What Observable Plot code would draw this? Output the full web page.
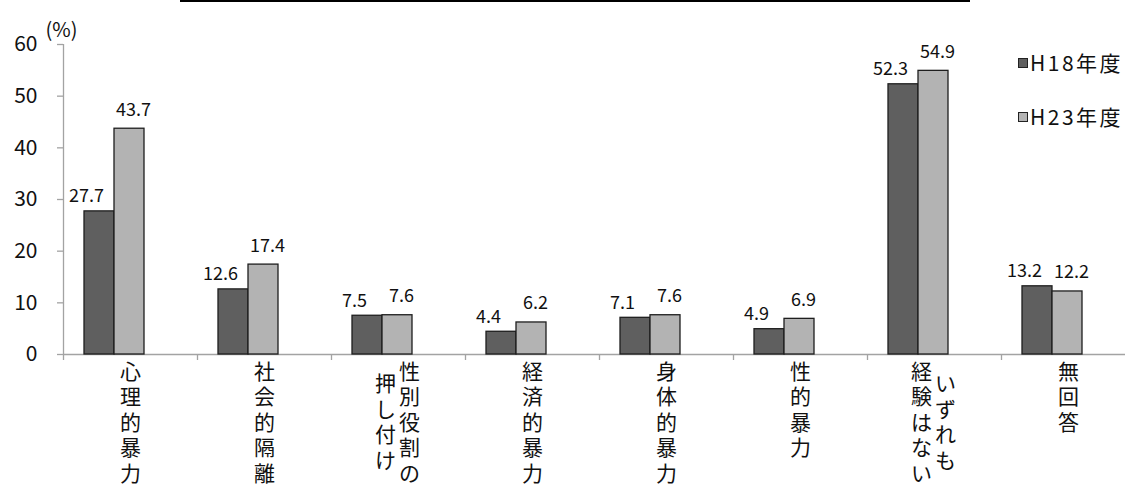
<!DOCTYPE html>
<html><head><meta charset="utf-8">
<script src="https://cdn.jsdelivr.net/npm/d3@7"></script>
<script src="https://cdn.jsdelivr.net/npm/@observablehq/plot@0.6"></script>
<style>
body{margin:0;background:#fff;}
#wrap{position:relative;width:1125px;height:485px;overflow:hidden;font-family:"Noto Sans CJK JP","Noto Sans",sans-serif;color:#111;}
#topline{position:absolute;left:180px;top:0;width:790px;height:2px;background:#000;}
#legend{position:absolute;left:1018px;top:35px;font-size:21px;line-height:54px;letter-spacing:2.5px;white-space:nowrap;}
#legend .sw{display:inline-block;width:8px;height:8px;border:1px solid #222;margin-right:2px;vertical-align:middle;position:relative;top:-2px;}
</style></head>
<body>
<div id="wrap">
<div id="chart"></div>
<div id="topline"></div>
<div id="legend"></div>
</div>
<script>
const categories = ["心理的暴力","社会的隔離","性別役割の\n押し付け","経済的暴力","身体的暴力","性的暴力","いずれも\n経験はない","無回答"];
const seriesNames = ["H18年度","H23年度"];
const h18 = [27.7, 12.6, 7.5, 4.4, 7.1, 4.9, 52.3, 13.2];
const h23 = [43.7, 17.4, 7.6, 6.2, 7.6, 6.9, 54.9, 12.2];
const yTicks = [0, 10, 20, 30, 40, 50, 60];
const colors = ["#5f5f5f", "#b3b3b3"];

const W = 1125, H = 485;
const x0 = 63, x1 = 1135;
const bw = (x1 - x0) / categories.length;
const barW = 30;
const lead = 21;
const axisColor = "#a3a3a3";
const font = '"Noto Sans CJK JP","Noto Sans",sans-serif';

const table = [];
categories.forEach((c, i) => {
  table.push({cat: c, series: seriesNames[0], value: h18[i]});
  table.push({cat: c, series: seriesNames[1], value: h23[i]});
});

const barOpts = (k) => ({
  filter: d => d.series === seriesNames[k],
  x: "cat", y: "value",
  fill: colors[k], stroke: "#1e1e1e", strokeWidth: 1.3,
  insetLeft: lead + k * barW,
  insetRight: bw - lead - (k + 1) * barW
});

// offset from band centre to bar centre
const barCenter = (k) => -bw / 2 + lead + k * barW + barW / 2;

const labelOpts = (k) => ({
  filter: d => d.series === seriesNames[k],
  x: "cat", y: "value",
  text: d => d.value.toFixed(1),
  textAnchor: "middle",
  dx: barCenter(k) + (k === 0 ? -13 : 4),
  lineAnchor: "bottom",
  dy: k === 0 ? -9 : -13,
  fontSize: 18, fill: "#111"
});

// category labels as vertical text columns (right-to-left)
const lineH = 25.5;
const catMarks = [];
categories.forEach(c => {
  const cols = c.split("\n");
  const maxLen = d3.max(cols, s => [...s].length);
  cols.forEach((s, j) => {
    const n = cols.length;
    const dxCol = n === 1 ? 0 : (j === 0 ? 11 : -13);
    const dyCol = 6 + (maxLen - [...s].length) * lineH / 2;
    catMarks.push(Plot.text([c], {
      x: d => d,
      text: () => [...s].join("\n"),
      frameAnchor: "bottom",
      textAnchor: "middle",
      lineAnchor: "top",
      lineHeight: lineH / 21,
      fontSize: 21,
      dx: dxCol, dy: dyCol,
      fill: "#111"
    }));
  });
});

const chart = Plot.plot({
  width: W, height: H,
  marginLeft: x0, marginRight: 0, marginTop: 44, marginBottom: 131,
  style: {fontFamily: font, background: "transparent", overflow: "visible"},
  x: {domain: categories, range: [x0, x1], padding: 0, axis: null},
  y: {domain: [0, 60], axis: null},
  marks: [
    Plot.ruleY([0], {stroke: axisColor, strokeWidth: 1.3}),
    Plot.ruleX([categories[0]], {dx: -bw / 2, y1: 0, y2: 60, stroke: axisColor, strokeWidth: 1.3}),
    Plot.ruleX(categories, {dx: -bw / 2, y1: 0, y2: 0, insetBottom: -6, stroke: axisColor, strokeWidth: 1.3}),
    Plot.axisY({ticks: yTicks, label: null, tickSize: 6, tickPadding: 20, stroke: axisColor, fill: "#111", fontSize: 21, tickFormat: d => String(d), strokeWidth: 1.3}),
    Plot.text(["(%)"], {frameAnchor: "top-left", textAnchor: "middle", text: d => d, dx: -2, dy: -22, fontSize: 20, fill: "#111"}),
    Plot.barY(table, barOpts(0)),
    Plot.barY(table, barOpts(1)),
    Plot.text(table, labelOpts(0)),
    Plot.text(table, labelOpts(1)),
    ...catMarks
  ]
});
document.getElementById("chart").appendChild(chart);

const lg = document.getElementById("legend");
seriesNames.forEach((n, k) => {
  const row = document.createElement("div");
  const sw = document.createElement("span");
  sw.className = "sw";
  sw.style.background = colors[k];
  row.appendChild(sw);
  row.appendChild(document.createTextNode(n));
  lg.appendChild(row);
});
</script>
</body></html>
